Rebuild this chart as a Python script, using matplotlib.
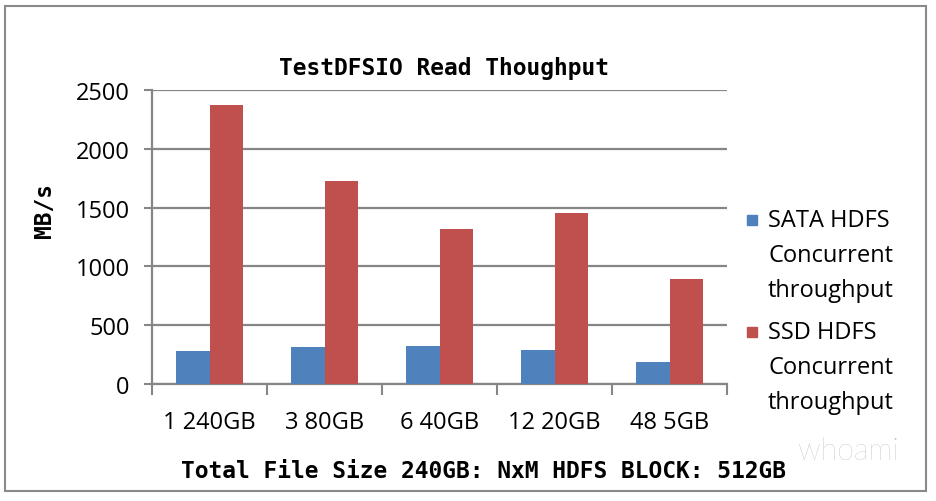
#!/usr/bin/env python3
"""TestDFSIO read throughput: SATA vs SSD HDFS."""

import matplotlib
matplotlib.use("Agg")
import matplotlib.pyplot as plt
from matplotlib.patches import Rectangle
import numpy as np

categories = ["1 240GB", "3 80GB", "6 40GB", "12 20GB", "48 5GB"]
sata = [278, 312, 326, 292, 190]
ssd = [2370, 1723, 1314, 1451, 890]
series_names = [["SATA HDFS", "Concurrent", "throughput"],
                ["SSD HDFS", "Concurrent", "throughput"]]
yticks = [0, 500, 1000, 1500, 2000, 2500]

BLUE = "#4F81BD"
RED = "#C0504D"
GRID = "#868686"
MONO = "DejaVu Sans Mono"
SANS = "Open Sans"
H, W = 502, 936


def fx(px):
    return px / W


def fy(py):
    return 1 - py / H


fig = plt.figure(figsize=(9.36, 5.02), dpi=100)
fig.patches.append(Rectangle((fx(5), fy(492)), fx(921), 485 / H,
                             transform=fig.transFigure, fill=False,
                             edgecolor="#8a8a8a", linewidth=1.5))

ax = fig.add_axes([fx(152), fy(385), fx(575), 294 / H])
x = np.arange(len(categories))
w = 0.29
ax.bar(x - w / 2, sata, w, color=BLUE, zorder=3)
ax.bar(x + w / 2, ssd, w, color=RED, zorder=3)

ax.set_xlim(-0.5, len(categories) - 0.5)
ax.set_ylim(0, 2500)
ax.set_yticks(yticks)
ax.set_yticklabels([str(v) for v in yticks], fontfamily=SANS, fontsize=17)
ax.yaxis.grid(True, color=GRID, linewidth=1.6, zorder=0)

ax.set_xticks(np.arange(len(categories) + 1) - 0.5)
ax.set_xticklabels([])
ax.set_xticks(x, minor=True)
ax.set_xticklabels(categories, minor=True, fontfamily=SANS, fontsize=17)
ax.tick_params(axis="x", which="major", length=8, width=1.5, color=GRID, direction="out")
ax.tick_params(axis="x", which="minor", length=0, pad=19)
ax.tick_params(axis="y", length=6, width=1.5, color=GRID, pad=10)

for side in ["top", "right"]:
    ax.spines[side].set_visible(False)
for side in ["left", "bottom"]:
    ax.spines[side].set_color(GRID)
    ax.spines[side].set_linewidth(1.6)

fig.text(fx(444), fy(68), "TestDFSIO Read Thoughput", ha="center", va="center",
         fontfamily=MONO, fontweight="bold", fontsize=16.5)
fig.text(fx(483), fy(472), "Total File Size 240GB: NxM HDFS BLOCK: 512GB",
         ha="center", va="center", fontfamily=MONO, fontweight="bold", fontsize=16.5)
fig.text(fx(44), fy(210), "MB/s", ha="center", va="center", rotation=90,
         fontfamily=MONO, fontweight="bold", fontsize=16.5)

# legend drawn by hand so the swatch sits beside the first line of each entry
for k, (lines, color) in enumerate(zip(series_names, [BLUE, RED])):
    top = 221 + k * 112
    fig.patches.append(Rectangle((fx(747), fy(top + 5)), fx(10), 10 / H,
                                 transform=fig.transFigure, color=color))
    for j, line in enumerate(lines):
        fig.text(fx(768), fy(top + j * 35), line, ha="left", va="center",
                 fontfamily=SANS, fontsize=17)

fig.text(fx(848), fy(452), "whoami", ha="center", va="center",
         fontfamily="Lato", fontweight="light", fontsize=22, color="#b4b4b4")

fig.savefig("out.png", dpi=100)
